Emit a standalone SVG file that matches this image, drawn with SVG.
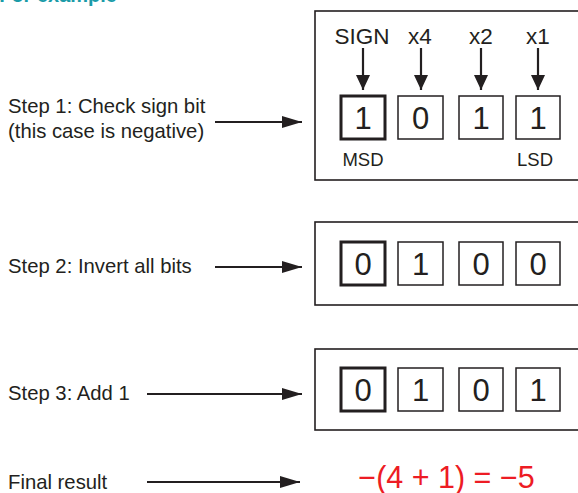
<svg xmlns="http://www.w3.org/2000/svg" width="578" height="493" viewBox="0 0 578 493">
<defs>
<style>
text{font-family:"Liberation Sans",Arial,Helvetica,sans-serif;fill:#231f20}
.lbl{font-size:20.3px}
.hdr{font-size:22.5px;text-anchor:middle}
.dig{font-size:31px;text-anchor:middle}
.sm{font-size:18.5px;text-anchor:middle}
.frame{fill:#fff;stroke:#231f20;stroke-width:1.6}
.bit{fill:#fff;stroke:#231f20;stroke-width:1.5}
.msb{fill:#fff;stroke:#231f20;stroke-width:3}
.conn line{stroke:#231f20;stroke-width:2.2}
</style>
<marker id="ah" markerUnits="userSpaceOnUse" markerWidth="22" markerHeight="14" refX="20" refY="6" orient="auto">
<path d="M0,0 L20,6 L0,12 Z" fill="#231f20"/>
</marker>
<marker id="av" markerUnits="userSpaceOnUse" markerWidth="18" markerHeight="16" refX="15" refY="7" orient="auto">
<path d="M0,0 L15,7 L0,14 Z" fill="#231f20"/>
</marker>
</defs>
<rect width="578" height="493" fill="#fff"/>
<text x="117" y="2" style="font-size:20px;font-weight:bold;fill:#1a9ba8;text-anchor:end">For example</text>

<g id="step1-label"><text class="lbl" x="8" y="113">Step 1: Check sign bit</text><text class="lbl" x="8" y="138">(this case is negative)</text></g>
<g id="step2-label"><text class="lbl" x="8" y="273">Step 2: Invert all bits</text></g>
<g id="step3-label"><text class="lbl" x="8" y="400">Step 3: Add 1</text></g>
<g id="final-label"><text class="lbl" x="8" y="489">Final result</text></g>

<g id="step1-box">
<rect class="frame" x="315" y="11" width="270" height="169"/>
<text class="hdr" x="362" y="44">SIGN</text>
<text class="hdr" x="420" y="44">x4</text>
<text class="hdr" x="481" y="44">x2</text>
<text class="hdr" x="538" y="44">x1</text>
<rect class="msb" x="341" y="96" width="44" height="43"/>
<rect class="bit" x="398" y="96" width="45" height="43"/>
<rect class="bit" x="459" y="96" width="44" height="43"/>
<rect class="bit" x="516" y="96" width="44" height="43"/>
<text class="dig" x="363" y="129">1</text>
<text class="dig" x="420.5" y="129">0</text>
<text class="dig" x="481" y="129">1</text>
<text class="dig" x="538" y="129">1</text>
<text class="sm" x="363" y="166">MSD</text>
<text class="sm" x="535" y="166">LSD</text>
</g>

<g id="step2-box">
<rect class="frame" x="315" y="222" width="270" height="83"/>
<rect class="msb" x="341" y="242" width="44" height="43"/>
<rect class="bit" x="398" y="242" width="45" height="43"/>
<rect class="bit" x="459" y="242" width="44" height="43"/>
<rect class="bit" x="516" y="242" width="44" height="43"/>
<text class="dig" x="363" y="275">0</text>
<text class="dig" x="420.5" y="275">1</text>
<text class="dig" x="481" y="275">0</text>
<text class="dig" x="538" y="275">0</text>
</g>

<g id="step3-box">
<rect class="frame" x="315" y="349" width="270" height="81"/>
<rect class="msb" x="341" y="368" width="44" height="43"/>
<rect class="bit" x="398" y="368" width="45" height="43"/>
<rect class="bit" x="459" y="368" width="44" height="43"/>
<rect class="bit" x="516" y="368" width="44" height="43"/>
<text class="dig" x="363" y="401">0</text>
<text class="dig" x="420.5" y="401">1</text>
<text class="dig" x="481" y="401">0</text>
<text class="dig" x="538" y="401">1</text>
</g>

<g id="result"><text x="446.5" y="488" style="font-size:30.5px;fill:#ed1c24;text-anchor:middle">−(4 + 1) = −5</text></g>

<g id="connectors" class="conn">
<line x1="215" y1="122" x2="302" y2="122" marker-end="url(#ah)"/>
<line x1="215" y1="267" x2="302" y2="267" marker-end="url(#ah)"/>
<line x1="147" y1="394" x2="302" y2="394" marker-end="url(#ah)"/>
<line x1="147" y1="482" x2="300" y2="482" marker-end="url(#ah)"/>
<line x1="363" y1="48" x2="363" y2="90" marker-end="url(#av)"/>
<line x1="421" y1="48" x2="421" y2="90" marker-end="url(#av)"/>
<line x1="481" y1="48" x2="481" y2="90" marker-end="url(#av)"/>
<line x1="538" y1="48" x2="538" y2="90" marker-end="url(#av)"/>
</g>
</svg>
